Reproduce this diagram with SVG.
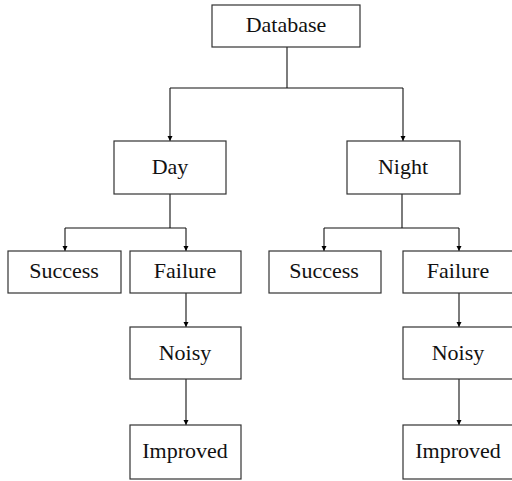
<svg xmlns="http://www.w3.org/2000/svg" width="512" height="481" viewBox="0 0 512 481">
<defs>
<marker id="arr" markerWidth="6" markerHeight="6" refX="5" refY="3" orient="auto" markerUnits="userSpaceOnUse">
<path d="M0,0.5 L5,3 L0,5.5 Z" fill="#000"/>
</marker>
<style>
.box{fill:#fff;stroke:#333;stroke-width:1.2}
.lbl{font-family:'Liberation Serif','DejaVu Serif',serif;font-size:22px;fill:#111;text-anchor:middle}
.ln{fill:none;stroke:#111;stroke-width:1.1}
</style>
</defs>
<rect width="512" height="481" fill="#fff"/>
<g id="connectors">
<path class="ln" d="M287,47 V88"/>
<path class="ln" d="M170,88 H403"/>
<path class="ln" d="M170,88 V141" marker-end="url(#arr)"/>
<path class="ln" d="M403,88 V141" marker-end="url(#arr)"/>
<path class="ln" d="M170,194 V228 M65,228 H186"/>
<path class="ln" d="M65,228 V251" marker-end="url(#arr)"/>
<path class="ln" d="M186,228 V251" marker-end="url(#arr)"/>
<path class="ln" d="M402,194 V228 M324,228 H459"/>
<path class="ln" d="M324,228 V251" marker-end="url(#arr)"/>
<path class="ln" d="M459,228 V251" marker-end="url(#arr)"/>
<path class="ln" d="M186,293 V327" marker-end="url(#arr)"/>
<path class="ln" d="M186,379 V425" marker-end="url(#arr)"/>
<path class="ln" d="M459,293 V327" marker-end="url(#arr)"/>
<path class="ln" d="M459,379 V425" marker-end="url(#arr)"/>
</g>
<g id="database"><rect class="box" x="212" y="5" width="148" height="42"/><text class="lbl" x="286" y="32">Database</text></g>
<g id="day"><rect class="box" x="114" y="141" width="112" height="53"/><text class="lbl" x="170" y="174">Day</text></g>
<g id="night"><rect class="box" x="347" y="141" width="113" height="53"/><text class="lbl" x="403" y="174">Night</text></g>
<g id="day-success"><rect class="box" x="8" y="251" width="113" height="42"/><text class="lbl" x="64" y="278">Success</text></g>
<g id="day-failure"><rect class="box" x="130" y="251" width="111" height="42"/><text class="lbl" x="185" y="278">Failure</text></g>
<g id="night-success"><rect class="box" x="269" y="251" width="112" height="42"/><text class="lbl" x="324" y="278">Success</text></g>
<g id="night-failure"><rect class="box" x="403" y="251" width="114" height="42"/><text class="lbl" x="458" y="278">Failure</text></g>
<g id="day-noisy"><rect class="box" x="130" y="327" width="111" height="52"/><text class="lbl" x="185" y="360">Noisy</text></g>
<g id="night-noisy"><rect class="box" x="403" y="327" width="114" height="52"/><text class="lbl" x="458" y="360">Noisy</text></g>
<g id="day-improved"><rect class="box" x="130" y="425" width="111" height="54"/><text class="lbl" x="185" y="458">Improved</text></g>
<g id="night-improved"><rect class="box" x="403" y="425" width="114" height="54"/><text class="lbl" x="458" y="458">Improved</text></g>
</svg>
